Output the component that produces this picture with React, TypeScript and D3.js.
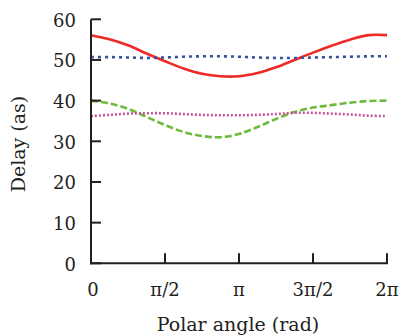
import React, { useEffect, useRef } from 'react';
import * as d3 from 'd3';

// polar angle samples, step pi/8 from 0 to 2pi
const angles = d3.range(17).map(i => (i * Math.PI) / 8);

const redDelay = [56.1, 55.1, 53.6, 51.6, 49.7, 47.9, 46.6, 46.0, 46.0, 46.8, 48.2, 50.0, 51.8, 53.5, 55.0, 56.1, 56.1];
const blueDelay = [50.7, 50.7, 50.6, 50.5, 50.6, 50.8, 50.9, 50.9, 50.8, 50.6, 50.5, 50.5, 50.6, 50.7, 50.8, 50.9, 50.9];
const greenDelay = [40.0, 39.3, 38.0, 36.0, 34.0, 32.3, 31.3, 31.0, 31.8, 33.5, 35.5, 37.2, 38.3, 38.9, 39.5, 39.9, 40.0];
const pinkDelay = [36.2, 36.5, 36.8, 36.9, 36.9, 36.7, 36.5, 36.4, 36.4, 36.5, 36.7, 37.0, 37.0, 36.8, 36.6, 36.3, 36.2];

const xTickValues = [0, Math.PI / 2, Math.PI, (3 * Math.PI) / 2, 2 * Math.PI];
const xTickLabels = ['0', 'π/2', 'π', '3π/2', '2π'];
const yTickValues = [0, 10, 20, 30, 40, 50, 60];

const App = () => {
  const svgRef = useRef(null);

  useEffect(() => {
    const svg = d3.select(svgRef.current);
    svg.selectAll('*').remove();

    const width = 401;
    const height = 336;
    const font = '"DejaVu Serif", serif';

    const x = d3.scaleLinear().domain([0, 2 * Math.PI]).range([91, 387]);
    const y = d3.scaleLinear().domain([0, 60]).range([263.3, 19.3]);

    svg.attr('width', width).attr('height', height);

    const series = [
      { values: redDelay, color: '#ee2a26', dash: null },
      { values: blueDelay, color: '#3451a1', dash: '3,4' },
      { values: greenDelay, color: '#6cbb3d', dash: '7,3' },
      { values: pinkDelay, color: '#c4549e', dash: '2,2' },
    ];

    const line = d3.line()
      .x(d => x(d[0]))
      .y(d => y(d[1]))
      .curve(d3.curveCatmullRom.alpha(0.5));

    series.forEach(s => {
      svg.append('path')
        .datum(angles.map((a, i) => [a, s.values[i]]))
        .attr('d', line)
        .attr('fill', 'none')
        .attr('stroke', s.color)
        .attr('stroke-width', 2.6)
        .attr('stroke-dasharray', s.dash);
    });

    // y axis, ticks pointing inward
    const yAxis = svg.append('g').attr('transform', `translate(${x(0)},0)`);
    yAxis.append('line')
      .attr('x1', 0).attr('x2', 0)
      .attr('y1', y(0) + 1).attr('y2', y(60))
      .attr('stroke', '#231f20').attr('stroke-width', 2);
    yTickValues.forEach(v => {
      yAxis.append('line')
        .attr('x1', 0).attr('x2', 10)
        .attr('y1', y(v)).attr('y2', y(v))
        .attr('stroke', '#231f20').attr('stroke-width', 2);
      yAxis.append('text')
        .attr('x', -15)
        .attr('y', y(v))
        .attr('dy', '0.4em')
        .attr('text-anchor', 'end')
        .style('font-family', font)
        .style('font-size', '18px')
        .attr('fill', '#231f20')
        .text(v);
    });

    // x axis, ticks pointing up
    const xAxis = svg.append('g').attr('transform', `translate(0,${y(0)})`);
    xAxis.append('line')
      .attr('x1', x(0) - 1).attr('x2', x(2 * Math.PI) + 1)
      .attr('y1', 0).attr('y2', 0)
      .attr('stroke', '#231f20').attr('stroke-width', 2);
    xTickValues.forEach((v, i) => {
      if (i > 0) {
        xAxis.append('line')
          .attr('x1', x(v)).attr('x2', x(v))
          .attr('y1', 0).attr('y2', -10)
          .attr('stroke', '#231f20').attr('stroke-width', 2);
      }
      xAxis.append('text')
        .attr('x', x(v) + (i === 0 ? 2 : 0))
        .attr('y', 33)
        .attr('text-anchor', 'middle')
        .style('font-family', font)
        .style('font-size', '18px')
        .attr('fill', '#231f20')
        .text(xTickLabels[i]);
    });

    // axis titles
    svg.append('text')
      .attr('x', 238)
      .attr('y', 331)
      .attr('text-anchor', 'middle')
      .style('font-family', font)
      .style('font-size', '19px')
      .attr('fill', '#231f20')
      .text('Polar angle (rad)');

    svg.append('text')
      .attr('transform', 'translate(25,144) rotate(-90)')
      .attr('text-anchor', 'middle')
      .style('font-family', font)
      .style('font-size', '19px')
      .attr('fill', '#231f20')
      .text('Delay (as)');
  }, []);

  return (
    <svg ref={svgRef} style={{ position: 'absolute', left: 0, top: 0, background: '#fff' }}></svg>
  );
};

export default App;
